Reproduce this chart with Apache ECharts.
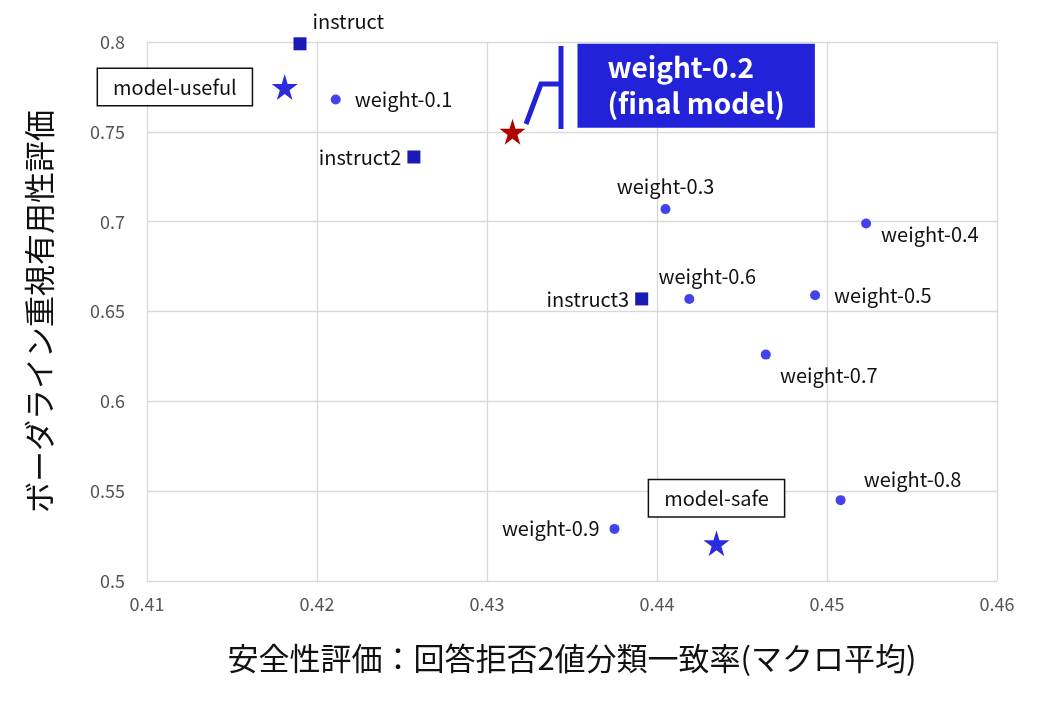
<!DOCTYPE html>
<html><head><meta charset="utf-8">
<script src="https://cdn.jsdelivr.net/npm/echarts@6/dist/echarts.min.js"></script>
<style>html,body{margin:0;background:#fff}#c{width:1040px;height:702px}</style>
</head><body><div id="c"></div>
<script>
// point data
var names = ['instruct','model-useful','weight-0.1','weight-0.2','instruct2','weight-0.3','weight-0.4','instruct3','weight-0.6','weight-0.5','weight-0.7','weight-0.8','weight-0.9','model-safe'];
var xs = [0.4190,0.4181,0.4211,0.4315,0.4257,0.4405,0.4523,0.4391,0.4419,0.4493,0.4464,0.4508,0.4375,0.4435];
var ys = [0.799,0.775,0.768,0.750,0.736,0.707,0.699,0.657,0.657,0.659,0.626,0.545,0.529,0.521];
var kinds = ['square','star','dot','final','square','dot','dot','square','dot','dot','dot','dot','dot','star'];
var xTicks = [0.41,0.42,0.43,0.44,0.45,0.46];
var yTicks = [0.5,0.55,0.6,0.65,0.7,0.75,0.8];

// label placement per point
var labelPos = [
  {position:'right',distance:6,offset:[0,-22]},
  {position:'left',distance:20},
  {position:'right',distance:14},
  {position:[78,-75]},
  {position:'left',distance:6},
  {position:'top',distance:8},
  {position:'right',distance:10,offset:[0,11]},
  {position:'left',distance:6},
  {position:'top',distance:8,offset:[18,0]},
  {position:'right',distance:14},
  {position:'bottom',distance:6,offset:[63,0]},
  {position:'top',distance:6,offset:[72,0]},
  {position:'left',distance:10},
  {position:'top',distance:14}
];
var starPath = 'path://M50 0 L61 35 L98 35 L68 57 L79 91 L50 70 L21 91 L32 57 L2 35 L39 35 Z';
var symbolOf = {square:'rect',dot:'circle',star:starPath,final:starPath};
var sizeOf = {square:13,dot:10,star:26,final:26};
var colorOf = {square:'#1a1ab4',dot:'#4343ee',star:'#2b2be0',final:'#b00000'};

var data = names.map(function(n,i){
  var k = kinds[i];
  var lab = Object.assign({show:true,formatter:n,color:'#111',fontSize:20}, labelPos[i]);
  if (k==='star') Object.assign(lab,{borderColor:'#111',borderWidth:1.5,backgroundColor:'#fff',padding:[8,15]});
  if (k==='final') Object.assign(lab,{formatter:'weight-0.2\n(final model)',color:'#fff',fontWeight:'bold',fontSize:28,lineHeight:36,backgroundColor:'#2222d8',padding:[6,30]});
  return {value:[xs[i],ys[i]],symbol:symbolOf[k],symbolSize:sizeOf[k],itemStyle:{color:colorOf[k],opacity:1},label:lab};
});

var chart = echarts.init(document.getElementById('c'));
chart.setOption({
  animation:false,
  textStyle:{fontFamily:'Noto Sans CJK JP'},
  grid:{left:147,right:43,top:42,bottom:121},
  xAxis:{type:'value',min:0.41,max:0.46,interval:0.01,
    name:'安全性評価：回答拒否2値分類一致率(マクロ平均)',nameLocation:'middle',nameGap:62,
    nameTextStyle:{fontSize:31,color:'#111'},
    axisLine:{show:false},axisTick:{show:false},
    axisLabel:{fontSize:18,color:'#555',margin:14,formatter:function(v){return String(+v.toFixed(2));}},
    splitLine:{show:true,lineStyle:{color:'#d9d9d9',width:1.3}}},
  yAxis:{type:'value',min:0.5,max:0.8,interval:0.05,
    name:'ボーダライン重視有用性評価',nameLocation:'middle',nameGap:92,nameRotate:90,
    nameTextStyle:{fontSize:31,color:'#111'},
    axisLine:{show:false},axisTick:{show:false},
    axisLabel:{fontSize:18,color:'#555',margin:22,formatter:function(v){return String(+v.toFixed(2));}},
    splitLine:{show:true,lineStyle:{color:'#d9d9d9',width:1.3}}},
  series:[{type:'scatter',data:data,z:5}],
  graphic:[
    {type:'line',shape:{x1:561,y1:46,x2:561,y2:129},style:{stroke:'#2222d8',lineWidth:5},z:10},
    {type:'polyline',shape:{points:[[561,84],[541,84],[526,124]]},style:{stroke:'#2222d8',lineWidth:5,fill:null},z:10}
  ]
});
</script></body></html>
